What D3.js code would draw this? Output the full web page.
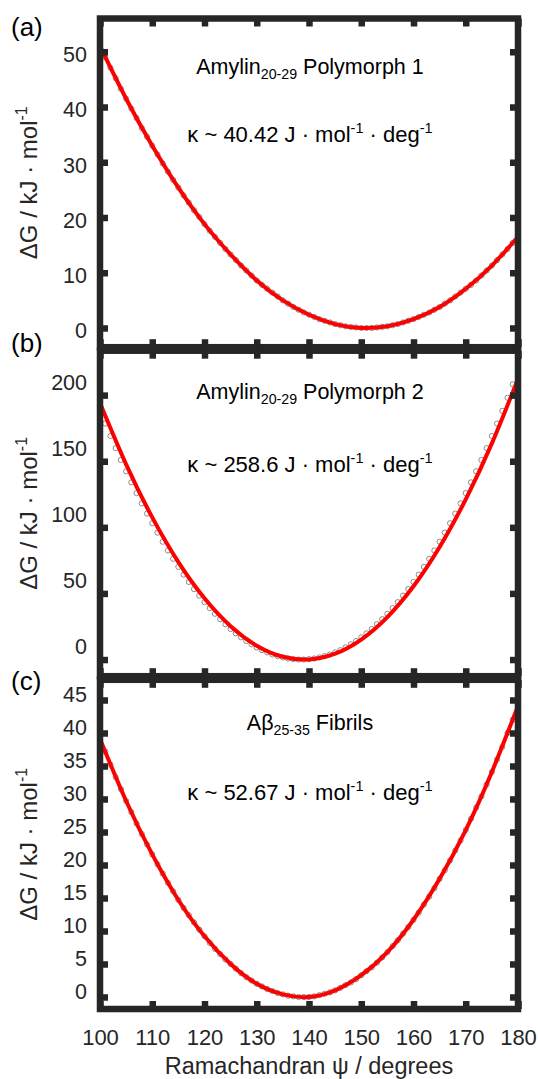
<!DOCTYPE html>
<html>
<head>
<meta charset="utf-8">
<script src="https://cdn.jsdelivr.net/npm/d3@7"></script>
<style>
  body { margin: 0; background: #fff; }
  text { font-family: "Liberation Sans", Arial, sans-serif; white-space: pre; }
</style>
</head>
<body>
<svg id="chart" width="538" height="1079"></svg>
<script>
// Ramachandran psi grid of the simulated points (deg)
const psiDeg = [100,101,102,103,104,105,106,107,108,109,110,111,112,113,114,115,116,117,118,119,
  120,121,122,123,124,125,126,127,128,129,130,131,132,133,134,135,136,137,138,139,
  140,141,142,143,144,145,146,147,148,149,150,151,152,153,154,155,156,157,158,159,
  160,161,162,163,164,165,166,167,168,169,170,171,172,173,174,175,176,177,178,179,180];
const psiFit = [100,105,110,115,120,125,130,135,140,145,150,155,160,165,170,175,180];
const xTicks = [100,110,120,130,140,150,160,170,180];

// (a) Amylin 20-29 polymorph 1, kJ/mol
const poly1Points = [51.0,49.0,47.1,45.2,43.3,41.5,39.7,38.0,36.2,34.6,33.0,31.4,29.8,28.3,26.8,25.4,24.0,22.7,21.3,20.1,
  18.8,17.6,16.5,15.4,14.3,13.3,12.3,11.3,10.4,9.5,8.6,7.8,7.1,6.4,5.7,5.0,4.4,3.8,3.3,2.8,
  2.4,2.0,1.6,1.3,1.0,0.7,0.5,0.3,0.2,0.1,0.0,0.0,0.0,0.1,0.2,0.3,0.5,0.7,1.0,1.3,
  1.6,2.0,2.4,2.8,3.3,3.8,4.4,5.0,5.7,6.4,7.1,7.8,8.6,9.5,10.4,11.3,12.3,13.3,14.3,15.4,16.5];
const poly1Fit = [51.0,41.5,33.0,25.4,18.8,13.3,8.6,5.0,2.4,0.7,0.0,0.3,1.6,3.8,7.1,11.3,16.5];

// (b) Amylin 20-29 polymorph 2, kJ/mol
const poly2Points = [188.1,178.5,169.1,159.9,151.0,142.4,134.0,125.9,118.1,110.4,103.1,96.0,89.1,82.5,76.2,70.1,64.2,58.7,53.3,48.3,
  43.4,38.9,34.6,30.5,26.7,23.1,19.8,16.8,14.0,11.5,9.2,7.1,5.4,3.8,2.6,1.6,0.8,0.3,0.0,0.0,
  0.3,0.8,1.6,2.6,3.8,5.4,7.1,9.2,11.5,14.0,16.8,19.8,23.1,26.7,30.5,34.6,38.9,43.4,48.3,53.3,
  58.7,64.2,70.1,76.2,82.5,89.1,96.0,103.1,110.4,118.1,125.9,134.0,142.4,151.0,159.9,169.1,178.5,188.1,198.0,208.2,218.6];
const poly2Fit = [194.0,147.6,107.5,73.7,46.3,25.2,10.5,2.1,0.1,4.4,15.1,32.1,55.4,85.1,121.2,163.5,212.3];

// (c) Abeta 25-35 fibrils, kJ/mol
const abPoints = [39.1,37.2,35.2,33.3,31.5,29.7,28.0,26.3,24.7,23.1,21.6,20.1,18.7,17.3,16.0,14.7,13.5,12.4,11.3,10.2,
  9.2,8.2,7.3,6.5,5.7,5.0,4.3,3.6,3.0,2.5,2.0,1.6,1.2,0.9,0.6,0.4,0.2,0.1,0.0,0.0,
  0.0,0.1,0.3,0.5,0.7,1.0,1.4,1.8,2.2,2.7,3.3,3.9,4.5,5.2,6.0,6.8,7.7,8.6,9.6,10.6,
  11.7,12.8,14.0,15.2,16.5,17.9,19.2,20.7,22.2,23.7,25.3,27.0,28.7,30.4,32.2,34.1,36.0,37.9,40.0,42.0,44.1];
const abFit = [39.1,29.7,21.6,14.7,9.2,5.0,2.0,0.4,0.0,1.0,3.3,6.8,11.7,17.9,25.3,34.1,44.1];

const poly1Ticks = [0,10,20,30,40,50];
const poly2Ticks = [0,50,100,150,200];
const abTicks = [0,5,10,15,20,25,30,35,40,45];

const panelLetters = ["(a)", "(b)", "(c)"];
const kappaValues = ["40.42", "258.6", "52.67"];
const panelTitles = [
  [["Amylin"], ["20-29", "sub"], [" Polymorph 1"]],
  [["Amylin"], ["20-29", "sub"], [" Polymorph 2"]],
  [["A\u03b2"], ["25-35", "sub"], [" Fibrils"]]
];

// layout (pixels) for each panel
const layout = [
  { top: 18.5, bottom: 347.2, lo: -3.48, hi: 56.02, labelDy: 3, letterY: 36, titleY: 74, kappaY: 142 },
  { top: 350.7, bottom: 676.2, lo: -12.6, hi: 233.6, labelDy: -13, letterY: 352, titleY: 399, kappaY: 472 },
  { top: 679.8, bottom: 1009, lo: -1.82, hi: 48.06, labelDy: -5, letterY: 690, titleY: 730, kappaY: 800 }
];
const panels = [
  { points: poly1Points, fit: poly1Fit, ticks: poly1Ticks },
  { points: poly2Points, fit: poly2Fit, ticks: poly2Ticks },
  { points: abPoints, fit: abFit, ticks: abTicks }
];

const ink = "#262626";
const frameW = 6.5, tickLen = 8;
const svg = d3.select("#chart");
const x = d3.scaleLinear().domain([100, 180]).range([100, 518]);

function richText(sel, parts, size) {
  let shift = 0;
  parts.forEach(([t, kind]) => {
    const target = kind === "sub" ? size * 0.22 : kind === "sup" ? -size * 0.4 : 0;
    sel.append("tspan")
      .attr("dy", target - shift)
      .attr("font-size", kind ? size * 0.66 : size)
      .text(t);
    shift = target;
  });
  return sel;
}

panels.forEach((p, i) => {
  const L = layout[i];
  const y = d3.scaleLinear().domain([L.lo, L.hi]).range([L.bottom, L.top]);
  const g = svg.append("g");
  const clipId = "clip" + i;
  svg.append("clipPath").attr("id", clipId)
    .append("rect").attr("x", 100).attr("y", L.top).attr("width", 418).attr("height", L.bottom - L.top);

  const plot = g.append("g").attr("clip-path", `url(#${clipId})`);
  plot.selectAll("circle").data(psiDeg).join("circle")
    .attr("cx", d => x(d))
    .attr("cy", (d, j) => y(p.points[j]))
    .attr("r", 2.6)
    .attr("fill", "#fff")
    .attr("stroke", "#707070")
    .attr("stroke-width", 0.8);

  const line = d3.line().x(d => x(d)).y((d, j) => y(p.fit[j])).curve(d3.curveNatural);
  plot.append("path").datum(psiFit)
    .attr("d", line)
    .attr("fill", "none")
    .attr("stroke", "#ff0000")
    .attr("stroke-width", 4);

  // frame
  g.append("rect")
    .attr("x", 100).attr("y", L.top)
    .attr("width", 418).attr("height", L.bottom - L.top)
    .attr("fill", "none").attr("stroke", ink).attr("stroke-width", frameW);

  const styleAxis = a => {
    a.select(".domain").remove();
    a.selectAll(".tick line").attr("stroke", ink).attr("stroke-width", frameW);
  };

  const bottomAx = d3.axisBottom(x).tickValues(xTicks).tickSize(-tickLen).tickPadding(20);
  if (i < 2) bottomAx.tickFormat("");
  g.append("g").attr("transform", `translate(0,${L.bottom})`).call(bottomAx).call(styleAxis)
    .selectAll("text").attr("font-size", 22).attr("fill", ink)
    .attr("font-family", "Liberation Sans, Arial, sans-serif");

  g.append("g").attr("transform", `translate(0,${L.top})`)
    .call(d3.axisTop(x).tickValues(xTicks).tickSize(-tickLen).tickFormat(""))
    .call(styleAxis);

  g.append("g").attr("transform", "translate(100,0)")
    .call(d3.axisLeft(y).tickValues(p.ticks).tickSize(-tickLen).tickPadding(13))
    .call(styleAxis)
    .selectAll("text").attr("font-size", 21.5).attr("fill", ink)
    .attr("font-family", "Liberation Sans, Arial, sans-serif")
    .attr("transform", `translate(0,${L.labelDy})`);

  g.append("g").attr("transform", "translate(518,0)")
    .call(d3.axisRight(y).tickValues(p.ticks).tickSize(-tickLen).tickFormat(""))
    .call(styleAxis);

  // y label
  const yc = (L.top + L.bottom) / 2;
  richText(g.append("text")
    .attr("transform", `translate(37,${yc}) rotate(-90)`)
    .attr("text-anchor", "middle").attr("fill", ink),
    [["\u0394G / kJ \u00b7 mol"], ["-1", "sup"]], 24);

  // panel letter
  g.append("text").attr("x", 11).attr("y", L.letterY)
    .attr("font-size", 26).attr("fill", "#000").text(panelLetters[i]);

  // annotations
  richText(g.append("text").attr("x", 310).attr("y", L.titleY)
    .attr("text-anchor", "middle").attr("fill", "#000"), panelTitles[i], 21.5);
  richText(g.append("text").attr("x", 310).attr("y", L.kappaY)
    .attr("text-anchor", "middle").attr("fill", "#000"),
    [["\u03ba ~ " + kappaValues[i] + " J \u00b7 mol"], ["-1", "sup"], [" \u00b7 deg"], ["-1", "sup"]], 22);
});

svg.append("text")
  .attr("x", 309).attr("y", 1074)
  .attr("text-anchor", "middle").attr("font-size", 23.5).attr("fill", ink)
  .text("Ramachandran \u03c8 / degrees");
</script>
</body>
</html>
